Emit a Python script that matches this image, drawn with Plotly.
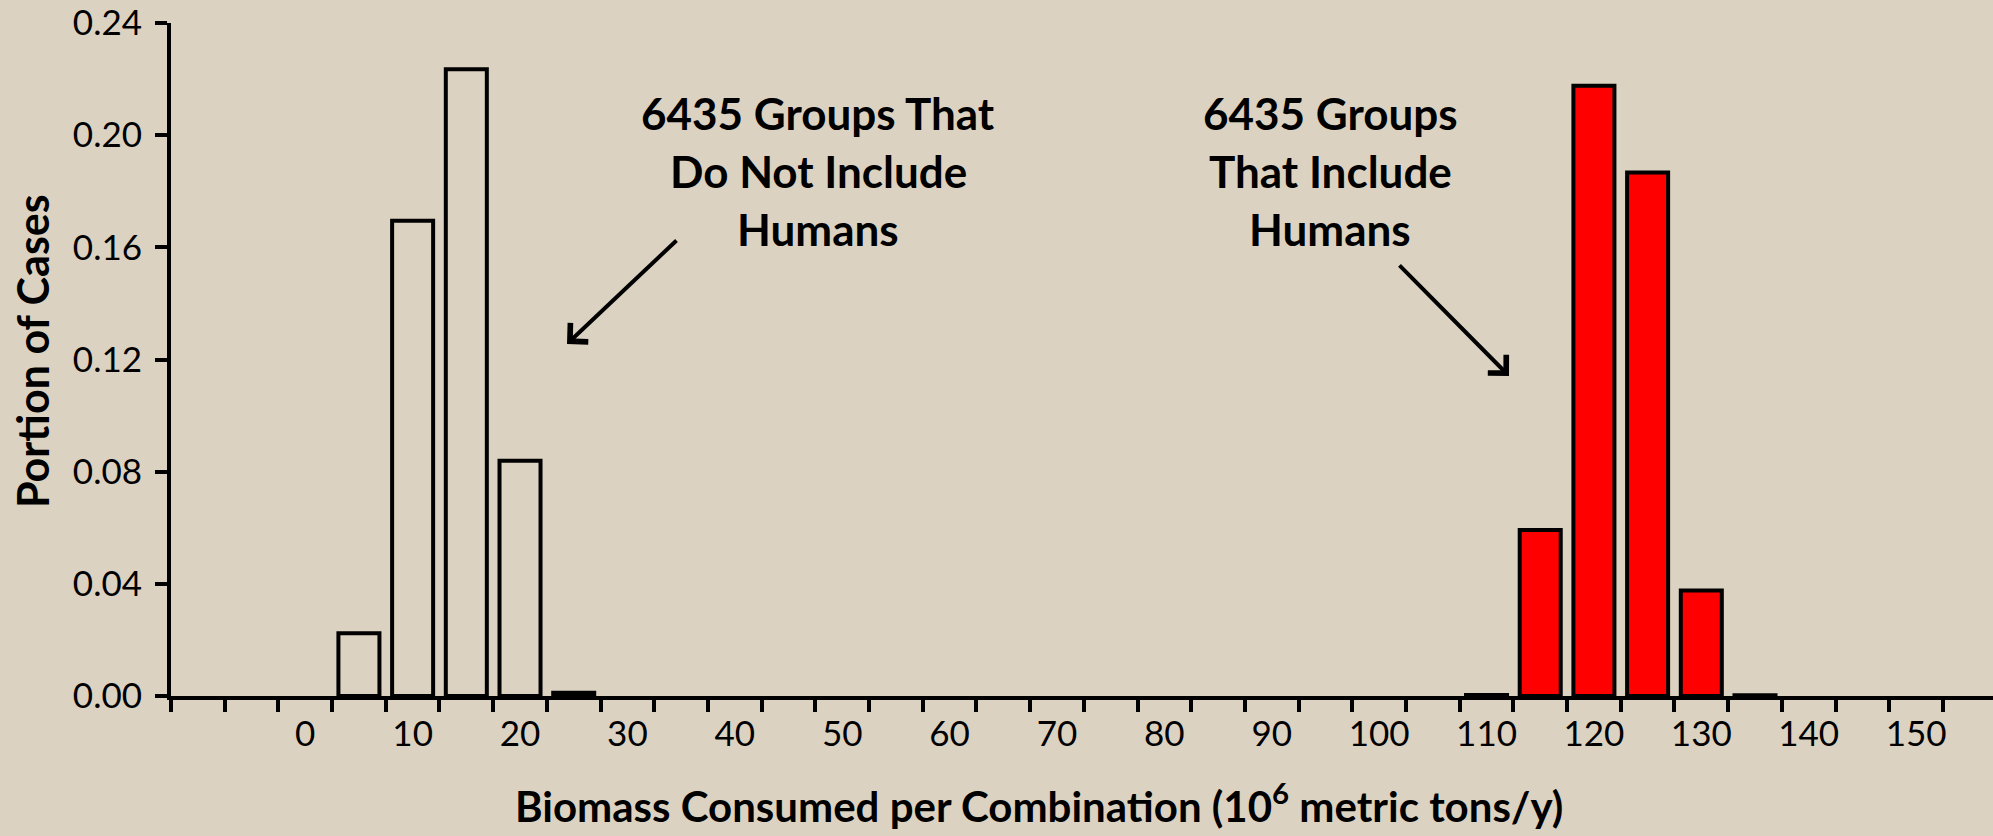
import plotly.graph_objects as go

# ---- data ----
bins_without = [5, 10, 15, 20, 25]
portion_without = [0.0224, 0.1695, 0.2235, 0.0839, 0.0012]
bins_with = [110, 115, 120, 125, 130, 135]
portion_with = [0.0004, 0.0592, 0.2176, 0.1867, 0.0376, 0.0003]
category_start, category_end, bin_step = -10, 155, 5
x_tick_labels = list(range(0, 151, 10))
y_tick_values = [0.00, 0.04, 0.08, 0.12, 0.16, 0.20, 0.24]

W, H = 1993, 836
L, T, R, B = 171, 21, 1993, 696
FONT = "Lato"
BG = "#dcd2c1"


def paper(xp, yp):
    return (xp - L) / (R - L), (B - yp) / (B - T)


boundaries = [c - bin_step / 2 for c in range(category_start, category_end + 1, bin_step)]
boundaries.append(category_end + bin_step / 2)

fig = go.Figure()
fig.add_trace(go.Bar(x=bins_without, y=portion_without, width=3.82,
                     marker=dict(color="rgba(0,0,0,0)", line=dict(color="black", width=4)),
                     showlegend=False))
fig.add_trace(go.Bar(x=bins_with, y=portion_with, width=3.82,
                     marker=dict(color="#ff0000", line=dict(color="black", width=4)),
                     showlegend=False))

annotations = []


def text_line(txt, xp, yp, size, angle=0):
    px_, py_ = paper(xp, yp)
    annotations.append(dict(text=txt, x=px_, y=py_, xref="paper", yref="paper",
                            xanchor="center", yanchor="middle", showarrow=False,
                            textangle=angle,
                            font=dict(family=FONT, size=size, color="black", weight="bold")))


line_y = [111, 169.5, 228]
# left block
for txt, yb in zip(["6435 Groups That", "Do Not Include", "Humans"], line_y):
    text_line(txt, 818, yb, 44)
# right block
for txt, yb in zip(["6435 Groups", "That Include", "Humans"], line_y):
    text_line(txt, 1330, yb, 44)

# axis titles
text_line("Biomass Consumed per Combination (10<sup>6</sup> metric tons/y)", 1039, 803, 42)
text_line("Portion of Cases", 32, 350, 43, angle=-90)


def arrow(tail, tip):
    tx, ty = paper(*tip)
    annotations.append(dict(x=tx, y=ty, xref="paper", yref="paper",
                            ax=tail[0] - tip[0], ay=tail[1] - tip[1],
                            axref="pixel", ayref="pixel", text="", showarrow=True,
                            arrowhead=4, arrowsize=1.25, arrowwidth=4, arrowcolor="black",
                            standoff=0))


arrow((678, 238), (567, 343))
arrow((1398, 263), (1509, 375))

fig.update_layout(
    width=W, height=H,
    margin=dict(l=L, r=W - R, t=T, b=H - B, pad=0),
    paper_bgcolor=BG, plot_bgcolor=BG,
    barmode="overlay",
    annotations=annotations,
    font=dict(family=FONT, color="black"),
    xaxis=dict(range=[boundaries[0], -12.5 + (R - L) / 10.739],
               showgrid=False, zeroline=False,
               showline=True, linecolor="black", linewidth=4,
               tickmode="array", tickvals=x_tick_labels,
               ticktext=[str(v) for v in x_tick_labels],
               ticks="", tickfont=dict(family=FONT, size=35, color="black"),
               ticklabelstandoff=4, ticklabeloverflow="allow",
               minor=dict(tickmode="array", tickvals=boundaries, ticks="outside",
                          ticklen=12, tickwidth=4, tickcolor="black", showgrid=False)),
    yaxis=dict(range=[0, 0.24], showgrid=False, zeroline=False,
               showline=True, linecolor="black", linewidth=4,
               tickmode="array", tickvals=y_tick_values,
               ticktext=[f"{v:.2f}" for v in y_tick_values],
               ticks="outside", ticklen=12, tickwidth=4, tickcolor="black",
               tickfont=dict(family=FONT, size=35, color="black"),
               ticklabelstandoff=6, ticklabeloverflow="allow"),
)

fig.write_html("out.html", config={"displayModeBar": False},
               post_script="document.body.style.margin='0px';document.body.style.overflow='hidden';")
